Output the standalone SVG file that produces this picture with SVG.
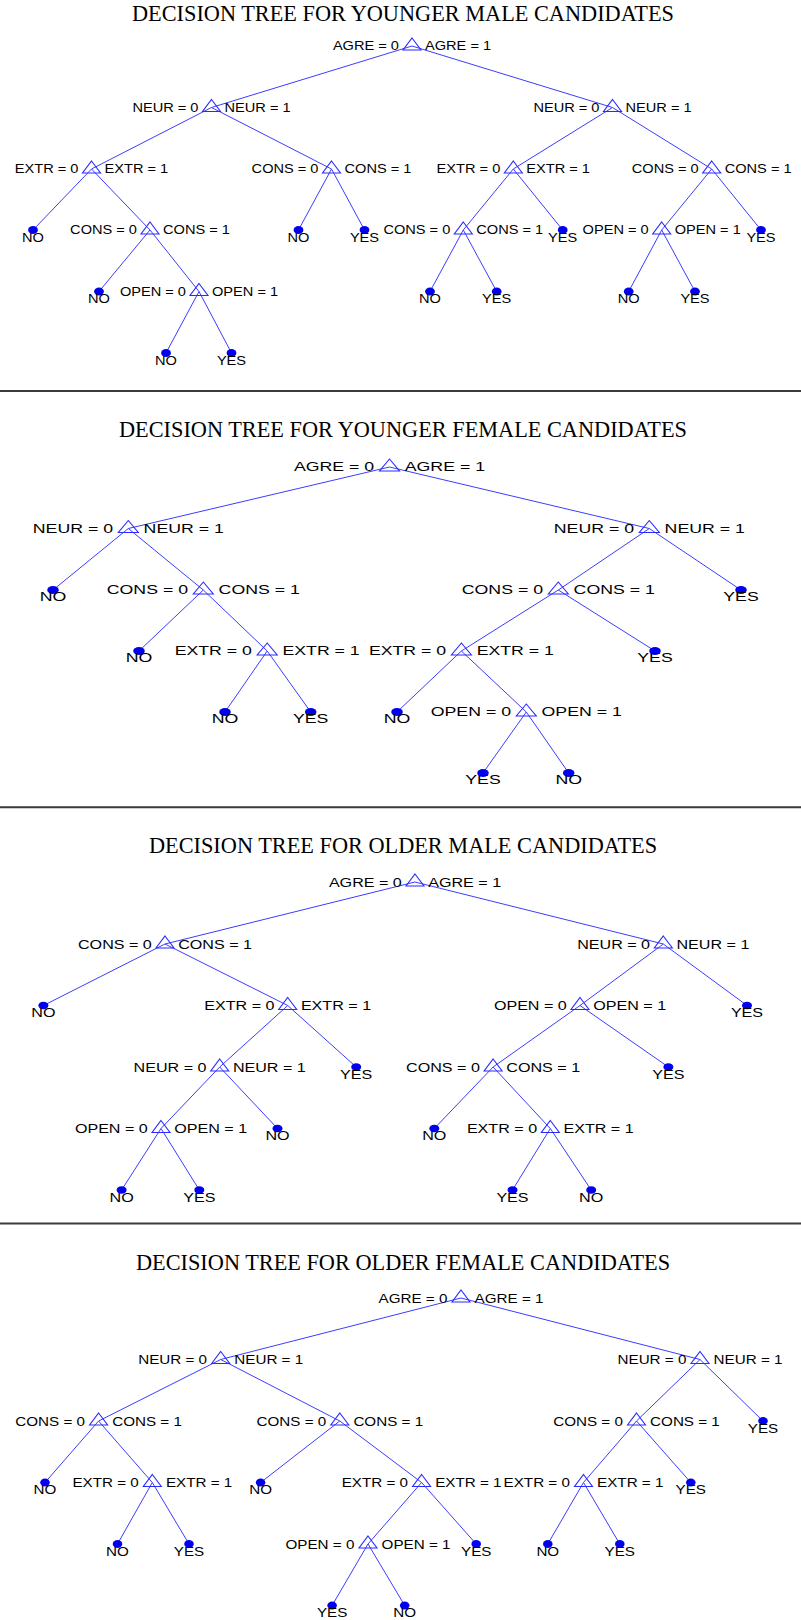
<svg xmlns="http://www.w3.org/2000/svg" xmlns:xlink="http://www.w3.org/1999/xlink" width="801" height="1620" viewBox="0 0 801 1620">
<style>
.bg{fill:#fff}
.sep{stroke:#3a3a3a;stroke-width:2}
.ttl{font-family:"Liberation Serif","Times New Roman",serif;font-size:22.3px;fill:#000;text-anchor:middle}
.e{stroke:#3d3dff;stroke-width:1;fill:none}
.tri{stroke:#2a2aff;stroke-width:1.1;fill:none}
.dot{fill:#0000ee}
text.lb{font-family:"Liberation Sans",Arial,sans-serif;fill:#000}
text.l{text-anchor:end}
text.r{text-anchor:start}
text.c{text-anchor:middle}
.f1 text{font-size:13px}
.f2 text{font-size:13.5px}
.f3 text{font-size:12.5px}
.f4 text{font-size:13px}
</style>
<defs>
<path id="tri" d="M0,-8L9,4H-9Z"/>
<path id="tri2" d="M0,-8L10,4H-10Z"/>
<ellipse id="d1" rx="4.9" ry="4"/>
<ellipse id="d2" rx="5.8" ry="4"/>
<ellipse id="d3" rx="5" ry="3.8"/>
<ellipse id="d4" rx="4.8" ry="4"/>
</defs>
<rect class="bg" x="0" y="0" width="801" height="1620"/>

<g id="titles">
<text class="ttl" x="403" y="21">DECISION TREE FOR YOUNGER MALE CANDIDATES</text>
<text class="ttl" x="403" y="437.3">DECISION TREE FOR YOUNGER FEMALE CANDIDATES</text>
<text class="ttl" x="403" y="853.3">DECISION TREE FOR OLDER MALE CANDIDATES</text>
<text class="ttl" x="403" y="1270">DECISION TREE FOR OLDER FEMALE CANDIDATES</text>
</g>
<g id="separators">
<line class="sep" x1="0" y1="391" x2="801" y2="391"/>
<line class="sep" x1="0" y1="807.3" x2="801" y2="807.3"/>
<line class="sep" x1="0" y1="1223.5" x2="801" y2="1223.5"/>
</g>

<g id="connectors" class="e">
<!-- tree 1 -->
<line x1="412" y1="46" x2="211.5" y2="107.5"/>
<line x1="412" y1="46" x2="612.5" y2="107.5"/>
<line x1="211.5" y1="107.5" x2="91.5" y2="169"/>
<line x1="211.5" y1="107.5" x2="331.5" y2="169"/>
<line x1="91.5" y1="169" x2="33" y2="230"/>
<line x1="91.5" y1="169" x2="150" y2="230"/>
<line x1="150" y1="230" x2="99" y2="291.5"/>
<line x1="150" y1="230" x2="199" y2="291.5"/>
<line x1="199" y1="291.5" x2="166" y2="353"/>
<line x1="199" y1="291.5" x2="231.5" y2="353"/>
<line x1="331.5" y1="169" x2="298.5" y2="230"/>
<line x1="331.5" y1="169" x2="364.5" y2="230"/>
<line x1="612.5" y1="107.5" x2="513.3" y2="169"/>
<line x1="612.5" y1="107.5" x2="711.7" y2="169"/>
<line x1="513.3" y1="169" x2="463.3" y2="230"/>
<line x1="513.3" y1="169" x2="562.7" y2="230"/>
<line x1="463.3" y1="230" x2="430" y2="291.5"/>
<line x1="463.3" y1="230" x2="496.7" y2="291.5"/>
<line x1="711.7" y1="169" x2="661.7" y2="230"/>
<line x1="711.7" y1="169" x2="761" y2="230"/>
<line x1="661.7" y1="230" x2="628.7" y2="291.5"/>
<line x1="661.7" y1="230" x2="695" y2="291.5"/>
<!-- tree 2 -->
<line x1="389.5" y1="467" x2="128.3" y2="528.5"/>
<line x1="389.5" y1="467" x2="649.3" y2="528.5"/>
<line x1="128.3" y1="528.5" x2="53" y2="590"/>
<line x1="128.3" y1="528.5" x2="203.3" y2="590"/>
<line x1="203.3" y1="590" x2="139" y2="651"/>
<line x1="203.3" y1="590" x2="267.2" y2="651"/>
<line x1="267.2" y1="651" x2="225" y2="712"/>
<line x1="267.2" y1="651" x2="310.7" y2="712"/>
<line x1="649.3" y1="528.5" x2="558.3" y2="590"/>
<line x1="649.3" y1="528.5" x2="741" y2="590"/>
<line x1="558.3" y1="590" x2="461.4" y2="651"/>
<line x1="558.3" y1="590" x2="655" y2="651"/>
<line x1="461.4" y1="651" x2="397" y2="712"/>
<line x1="461.4" y1="651" x2="526.3" y2="712"/>
<line x1="526.3" y1="712" x2="483" y2="773"/>
<line x1="526.3" y1="712" x2="568.7" y2="773"/>
<!-- tree 3 -->
<line x1="415" y1="882" x2="165" y2="944"/>
<line x1="415" y1="882" x2="663.3" y2="944"/>
<line x1="165" y1="944" x2="43.4" y2="1005.5"/>
<line x1="165" y1="944" x2="287.7" y2="1005.5"/>
<line x1="287.7" y1="1005.5" x2="219.7" y2="1067"/>
<line x1="287.7" y1="1005.5" x2="356.2" y2="1067"/>
<line x1="219.7" y1="1067" x2="161" y2="1128.5"/>
<line x1="219.7" y1="1067" x2="277.5" y2="1128.5"/>
<line x1="161" y1="1128.5" x2="121.6" y2="1190"/>
<line x1="161" y1="1128.5" x2="199.3" y2="1190"/>
<line x1="663.3" y1="944" x2="580" y2="1005.5"/>
<line x1="663.3" y1="944" x2="747" y2="1005.5"/>
<line x1="580" y1="1005.5" x2="493.1" y2="1067"/>
<line x1="580" y1="1005.5" x2="668.4" y2="1067"/>
<line x1="493.1" y1="1067" x2="434.3" y2="1128.5"/>
<line x1="493.1" y1="1067" x2="550.3" y2="1128.5"/>
<line x1="550.3" y1="1128.5" x2="512.5" y2="1190"/>
<line x1="550.3" y1="1128.5" x2="591.2" y2="1190"/>
<!-- tree 4 -->
<line x1="461" y1="1298" x2="220.7" y2="1359.5"/>
<line x1="461" y1="1298" x2="700" y2="1359.5"/>
<line x1="220.7" y1="1359.5" x2="98.6" y2="1421"/>
<line x1="220.7" y1="1359.5" x2="339.8" y2="1421"/>
<line x1="98.6" y1="1421" x2="45" y2="1482.5"/>
<line x1="98.6" y1="1421" x2="152.3" y2="1482.5"/>
<line x1="152.3" y1="1482.5" x2="117.5" y2="1544"/>
<line x1="152.3" y1="1482.5" x2="189" y2="1544"/>
<line x1="339.8" y1="1421" x2="260.6" y2="1482.5"/>
<line x1="339.8" y1="1421" x2="421.6" y2="1482.5"/>
<line x1="421.6" y1="1482.5" x2="368" y2="1544"/>
<line x1="421.6" y1="1482.5" x2="476.2" y2="1544"/>
<line x1="368" y1="1544" x2="332.1" y2="1605.5"/>
<line x1="368" y1="1544" x2="404.7" y2="1605.5"/>
<line x1="700" y1="1359.5" x2="636.5" y2="1421"/>
<line x1="700" y1="1359.5" x2="763" y2="1421"/>
<line x1="636.5" y1="1421" x2="583.5" y2="1482.5"/>
<line x1="636.5" y1="1421" x2="690.8" y2="1482.5"/>
<line x1="583.5" y1="1482.5" x2="547.8" y2="1544"/>
<line x1="583.5" y1="1482.5" x2="619.8" y2="1544"/>
</g>

<!-- TREE 1 -->
<g id="tree1" class="f1">
<g id="t1-root"><use href="#tri" class="tri" x="412" y="46"/><text class="lb l" x="399" y="50" textLength="66.1" lengthAdjust="spacingAndGlyphs">AGRE = 0</text><text class="lb r" x="425" y="50" textLength="66.1" lengthAdjust="spacingAndGlyphs">AGRE = 1</text></g>
<g id="t1-a"><use href="#tri" class="tri" x="211.5" y="107.5"/><text class="lb l" x="198.5" y="111.5" textLength="66.1" lengthAdjust="spacingAndGlyphs">NEUR = 0</text><text class="lb r" x="224.5" y="111.5" textLength="66.1" lengthAdjust="spacingAndGlyphs">NEUR = 1</text></g>
<g id="t1-b"><use href="#tri" class="tri" x="612.5" y="107.5"/><text class="lb l" x="599.5" y="111.5" textLength="66.1" lengthAdjust="spacingAndGlyphs">NEUR = 0</text><text class="lb r" x="625.5" y="111.5" textLength="66.1" lengthAdjust="spacingAndGlyphs">NEUR = 1</text></g>
<g id="t1-a1"><use href="#tri" class="tri" x="91.5" y="169"/><text class="lb l" x="78.5" y="173" textLength="63.7" lengthAdjust="spacingAndGlyphs">EXTR = 0</text><text class="lb r" x="104.5" y="173" textLength="63.7" lengthAdjust="spacingAndGlyphs">EXTR = 1</text></g>
<g id="t1-a2"><use href="#tri" class="tri" x="331.5" y="169"/><text class="lb l" x="318.5" y="173" textLength="66.9" lengthAdjust="spacingAndGlyphs">CONS = 0</text><text class="lb r" x="344.5" y="173" textLength="66.9" lengthAdjust="spacingAndGlyphs">CONS = 1</text></g>
<g id="t1-a1a"><use href="#d1" class="dot" x="33" y="230"/><text class="lb c" x="33" y="241.5" textLength="21.9" lengthAdjust="spacingAndGlyphs">NO</text></g>
<g id="t1-a1b"><use href="#tri" class="tri" x="150" y="230"/><text class="lb l" x="137" y="234" textLength="66.9" lengthAdjust="spacingAndGlyphs">CONS = 0</text><text class="lb r" x="163" y="234" textLength="66.9" lengthAdjust="spacingAndGlyphs">CONS = 1</text></g>
<g id="t1-a1b1"><use href="#d1" class="dot" x="99" y="291.5"/><text class="lb c" x="99" y="303" textLength="21.9" lengthAdjust="spacingAndGlyphs">NO</text></g>
<g id="t1-a1b2"><use href="#tri" class="tri" x="199" y="291.5"/><text class="lb l" x="186" y="295.5" textLength="66.1" lengthAdjust="spacingAndGlyphs">OPEN = 0</text><text class="lb r" x="212" y="295.5" textLength="66.1" lengthAdjust="spacingAndGlyphs">OPEN = 1</text></g>
<g id="t1-a1b2a"><use href="#d1" class="dot" x="166" y="353"/><text class="lb c" x="166" y="364.5" textLength="21.9" lengthAdjust="spacingAndGlyphs">NO</text></g>
<g id="t1-a1b2b"><use href="#d1" class="dot" x="231.5" y="353"/><text class="lb c" x="231.5" y="364.5" textLength="29.2" lengthAdjust="spacingAndGlyphs">YES</text></g>
<g id="t1-a2a"><use href="#d1" class="dot" x="298.5" y="230"/><text class="lb c" x="298.5" y="241.5" textLength="21.9" lengthAdjust="spacingAndGlyphs">NO</text></g>
<g id="t1-a2b"><use href="#d1" class="dot" x="364.5" y="230"/><text class="lb c" x="364.5" y="241.5" textLength="29.2" lengthAdjust="spacingAndGlyphs">YES</text></g>
<g id="t1-b1"><use href="#tri" class="tri" x="513.3" y="169"/><text class="lb l" x="500.3" y="173" textLength="63.7" lengthAdjust="spacingAndGlyphs">EXTR = 0</text><text class="lb r" x="526.3" y="173" textLength="63.7" lengthAdjust="spacingAndGlyphs">EXTR = 1</text></g>
<g id="t1-b2"><use href="#tri" class="tri" x="711.7" y="169"/><text class="lb l" x="698.7" y="173" textLength="66.9" lengthAdjust="spacingAndGlyphs">CONS = 0</text><text class="lb r" x="724.7" y="173" textLength="66.9" lengthAdjust="spacingAndGlyphs">CONS = 1</text></g>
<g id="t1-b1a"><use href="#tri" class="tri" x="463.3" y="230"/><text class="lb l" x="450.3" y="234" textLength="66.9" lengthAdjust="spacingAndGlyphs">CONS = 0</text><text class="lb r" x="476.3" y="234" textLength="66.9" lengthAdjust="spacingAndGlyphs">CONS = 1</text></g>
<g id="t1-b1b"><use href="#d1" class="dot" x="562.7" y="230"/><text class="lb c" x="562.7" y="241.5" textLength="29.2" lengthAdjust="spacingAndGlyphs">YES</text></g>
<g id="t1-b1a1"><use href="#d1" class="dot" x="430" y="291.5"/><text class="lb c" x="430" y="303" textLength="21.9" lengthAdjust="spacingAndGlyphs">NO</text></g>
<g id="t1-b1a2"><use href="#d1" class="dot" x="496.7" y="291.5"/><text class="lb c" x="496.7" y="303" textLength="29.2" lengthAdjust="spacingAndGlyphs">YES</text></g>
<g id="t1-b2a"><use href="#tri" class="tri" x="661.7" y="230"/><text class="lb l" x="648.7" y="234" textLength="66.1" lengthAdjust="spacingAndGlyphs">OPEN = 0</text><text class="lb r" x="674.7" y="234" textLength="66.1" lengthAdjust="spacingAndGlyphs">OPEN = 1</text></g>
<g id="t1-b2b"><use href="#d1" class="dot" x="761" y="230"/><text class="lb c" x="761" y="241.5" textLength="29.2" lengthAdjust="spacingAndGlyphs">YES</text></g>
<g id="t1-b2a1"><use href="#d1" class="dot" x="628.7" y="291.5"/><text class="lb c" x="628.7" y="303" textLength="21.9" lengthAdjust="spacingAndGlyphs">NO</text></g>
<g id="t1-b2a2"><use href="#d1" class="dot" x="695" y="291.5"/><text class="lb c" x="695" y="303" textLength="29.2" lengthAdjust="spacingAndGlyphs">YES</text></g>
</g>

<!-- TREE 2 -->
<g id="tree2" class="f2">
<g id="t2-root"><use href="#tri2" class="tri" x="389.5" y="467"/><text class="lb l" x="374.2" y="471" textLength="80.2" lengthAdjust="spacingAndGlyphs">AGRE = 0</text><text class="lb r" x="404.8" y="471" textLength="80.2" lengthAdjust="spacingAndGlyphs">AGRE = 1</text></g>
<g id="t2-a"><use href="#tri2" class="tri" x="128.3" y="528.5"/><text class="lb l" x="113" y="532.5" textLength="80.2" lengthAdjust="spacingAndGlyphs">NEUR = 0</text><text class="lb r" x="143.6" y="532.5" textLength="80.2" lengthAdjust="spacingAndGlyphs">NEUR = 1</text></g>
<g id="t2-b"><use href="#tri2" class="tri" x="649.3" y="528.5"/><text class="lb l" x="634" y="532.5" textLength="80.2" lengthAdjust="spacingAndGlyphs">NEUR = 0</text><text class="lb r" x="664.6" y="532.5" textLength="80.2" lengthAdjust="spacingAndGlyphs">NEUR = 1</text></g>
<g id="t2-a1"><use href="#d2" class="dot" x="53" y="590"/><text class="lb c" x="53" y="601" textLength="26.6" lengthAdjust="spacingAndGlyphs">NO</text></g>
<g id="t2-a2"><use href="#tri2" class="tri" x="203.3" y="590"/><text class="lb l" x="188" y="594" textLength="81.2" lengthAdjust="spacingAndGlyphs">CONS = 0</text><text class="lb r" x="218.6" y="594" textLength="81.2" lengthAdjust="spacingAndGlyphs">CONS = 1</text></g>
<g id="t2-a2a"><use href="#d2" class="dot" x="139" y="651"/><text class="lb c" x="139" y="662" textLength="26.6" lengthAdjust="spacingAndGlyphs">NO</text></g>
<g id="t2-a2b"><use href="#tri2" class="tri" x="267.2" y="651"/><text class="lb l" x="251.9" y="655" textLength="77.2" lengthAdjust="spacingAndGlyphs">EXTR = 0</text><text class="lb r" x="282.5" y="655" textLength="77.2" lengthAdjust="spacingAndGlyphs">EXTR = 1</text></g>
<g id="t2-a2b1"><use href="#d2" class="dot" x="225" y="712"/><text class="lb c" x="225" y="723" textLength="26.6" lengthAdjust="spacingAndGlyphs">NO</text></g>
<g id="t2-a2b2"><use href="#d2" class="dot" x="310.7" y="712"/><text class="lb c" x="310.7" y="723" textLength="35.4" lengthAdjust="spacingAndGlyphs">YES</text></g>
<g id="t2-b1"><use href="#tri2" class="tri" x="558.3" y="590"/><text class="lb l" x="543" y="594" textLength="81.2" lengthAdjust="spacingAndGlyphs">CONS = 0</text><text class="lb r" x="573.6" y="594" textLength="81.2" lengthAdjust="spacingAndGlyphs">CONS = 1</text></g>
<g id="t2-b2"><use href="#d2" class="dot" x="741" y="590"/><text class="lb c" x="741" y="601" textLength="35.4" lengthAdjust="spacingAndGlyphs">YES</text></g>
<g id="t2-b1a"><use href="#tri2" class="tri" x="461.4" y="651"/><text class="lb l" x="446.1" y="655" textLength="77.2" lengthAdjust="spacingAndGlyphs">EXTR = 0</text><text class="lb r" x="476.7" y="655" textLength="77.2" lengthAdjust="spacingAndGlyphs">EXTR = 1</text></g>
<g id="t2-b1b"><use href="#d2" class="dot" x="655" y="651"/><text class="lb c" x="655" y="662" textLength="35.4" lengthAdjust="spacingAndGlyphs">YES</text></g>
<g id="t2-b1a1"><use href="#d2" class="dot" x="397" y="712"/><text class="lb c" x="397" y="723" textLength="26.6" lengthAdjust="spacingAndGlyphs">NO</text></g>
<g id="t2-b1a2"><use href="#tri2" class="tri" x="526.3" y="712"/><text class="lb l" x="511" y="716" textLength="80.2" lengthAdjust="spacingAndGlyphs">OPEN = 0</text><text class="lb r" x="541.6" y="716" textLength="80.2" lengthAdjust="spacingAndGlyphs">OPEN = 1</text></g>
<g id="t2-b1a2a"><use href="#d2" class="dot" x="483" y="773"/><text class="lb c" x="483" y="784" textLength="35.4" lengthAdjust="spacingAndGlyphs">YES</text></g>
<g id="t2-b1a2b"><use href="#d2" class="dot" x="568.7" y="773"/><text class="lb c" x="568.7" y="784" textLength="26.6" lengthAdjust="spacingAndGlyphs">NO</text></g>
</g>

<!-- TREE 3 -->
<g id="tree3" class="f3">
<g id="t3-root"><use href="#tri" class="tri" x="415" y="882"/><text class="lb l" x="401.8" y="886.5" textLength="72.9" lengthAdjust="spacingAndGlyphs">AGRE = 0</text><text class="lb r" x="428.2" y="886.5" textLength="72.9" lengthAdjust="spacingAndGlyphs">AGRE = 1</text></g>
<g id="t3-a"><use href="#tri" class="tri" x="165" y="944"/><text class="lb l" x="151.8" y="948.5" textLength="73.8" lengthAdjust="spacingAndGlyphs">CONS = 0</text><text class="lb r" x="178.2" y="948.5" textLength="73.8" lengthAdjust="spacingAndGlyphs">CONS = 1</text></g>
<g id="t3-b"><use href="#tri" class="tri" x="663.3" y="944"/><text class="lb l" x="650.1" y="948.5" textLength="72.9" lengthAdjust="spacingAndGlyphs">NEUR = 0</text><text class="lb r" x="676.5" y="948.5" textLength="72.9" lengthAdjust="spacingAndGlyphs">NEUR = 1</text></g>
<g id="t3-a1"><use href="#d3" class="dot" x="43.4" y="1005.5"/><text class="lb c" x="43.4" y="1017" textLength="24.2" lengthAdjust="spacingAndGlyphs">NO</text></g>
<g id="t3-a2"><use href="#tri" class="tri" x="287.7" y="1005.5"/><text class="lb l" x="274.5" y="1010" textLength="70.2" lengthAdjust="spacingAndGlyphs">EXTR = 0</text><text class="lb r" x="300.9" y="1010" textLength="70.2" lengthAdjust="spacingAndGlyphs">EXTR = 1</text></g>
<g id="t3-a2a"><use href="#tri" class="tri" x="219.7" y="1067"/><text class="lb l" x="206.5" y="1071.5" textLength="72.9" lengthAdjust="spacingAndGlyphs">NEUR = 0</text><text class="lb r" x="232.9" y="1071.5" textLength="72.9" lengthAdjust="spacingAndGlyphs">NEUR = 1</text></g>
<g id="t3-a2b"><use href="#d3" class="dot" x="356.2" y="1067"/><text class="lb c" x="356.2" y="1078.5" textLength="32.2" lengthAdjust="spacingAndGlyphs">YES</text></g>
<g id="t3-a2a1"><use href="#tri" class="tri" x="161" y="1128.5"/><text class="lb l" x="147.8" y="1133" textLength="72.9" lengthAdjust="spacingAndGlyphs">OPEN = 0</text><text class="lb r" x="174.2" y="1133" textLength="72.9" lengthAdjust="spacingAndGlyphs">OPEN = 1</text></g>
<g id="t3-a2a2"><use href="#d3" class="dot" x="277.5" y="1128.5"/><text class="lb c" x="277.5" y="1140" textLength="24.2" lengthAdjust="spacingAndGlyphs">NO</text></g>
<g id="t3-a2a1a"><use href="#d3" class="dot" x="121.6" y="1190"/><text class="lb c" x="121.6" y="1201.5" textLength="24.2" lengthAdjust="spacingAndGlyphs">NO</text></g>
<g id="t3-a2a1b"><use href="#d3" class="dot" x="199.3" y="1190"/><text class="lb c" x="199.3" y="1201.5" textLength="32.2" lengthAdjust="spacingAndGlyphs">YES</text></g>
<g id="t3-b1"><use href="#tri" class="tri" x="580" y="1005.5"/><text class="lb l" x="566.8" y="1010" textLength="72.9" lengthAdjust="spacingAndGlyphs">OPEN = 0</text><text class="lb r" x="593.2" y="1010" textLength="72.9" lengthAdjust="spacingAndGlyphs">OPEN = 1</text></g>
<g id="t3-b2"><use href="#d3" class="dot" x="747" y="1005.5"/><text class="lb c" x="747" y="1017" textLength="32.2" lengthAdjust="spacingAndGlyphs">YES</text></g>
<g id="t3-b1a"><use href="#tri" class="tri" x="493.1" y="1067"/><text class="lb l" x="479.9" y="1071.5" textLength="73.8" lengthAdjust="spacingAndGlyphs">CONS = 0</text><text class="lb r" x="506.3" y="1071.5" textLength="73.8" lengthAdjust="spacingAndGlyphs">CONS = 1</text></g>
<g id="t3-b1b"><use href="#d3" class="dot" x="668.4" y="1067"/><text class="lb c" x="668.4" y="1078.5" textLength="32.2" lengthAdjust="spacingAndGlyphs">YES</text></g>
<g id="t3-b1a1"><use href="#d3" class="dot" x="434.3" y="1128.5"/><text class="lb c" x="434.3" y="1140" textLength="24.2" lengthAdjust="spacingAndGlyphs">NO</text></g>
<g id="t3-b1a2"><use href="#tri" class="tri" x="550.3" y="1128.5"/><text class="lb l" x="537.1" y="1133" textLength="70.2" lengthAdjust="spacingAndGlyphs">EXTR = 0</text><text class="lb r" x="563.5" y="1133" textLength="70.2" lengthAdjust="spacingAndGlyphs">EXTR = 1</text></g>
<g id="t3-b1a2a"><use href="#d3" class="dot" x="512.5" y="1190"/><text class="lb c" x="512.5" y="1201.5" textLength="32.2" lengthAdjust="spacingAndGlyphs">YES</text></g>
<g id="t3-b1a2b"><use href="#d3" class="dot" x="591.2" y="1190"/><text class="lb c" x="591.2" y="1201.5" textLength="24.2" lengthAdjust="spacingAndGlyphs">NO</text></g>
</g>

<!-- TREE 4 -->
<g id="tree4" class="f4">
<g id="t4-root"><use href="#tri" class="tri" x="461" y="1298"/><text class="lb l" x="447.4" y="1302.5" textLength="68.9" lengthAdjust="spacingAndGlyphs">AGRE = 0</text><text class="lb r" x="474.6" y="1302.5" textLength="68.9" lengthAdjust="spacingAndGlyphs">AGRE = 1</text></g>
<g id="t4-a"><use href="#tri" class="tri" x="220.7" y="1359.5"/><text class="lb l" x="207.1" y="1364" textLength="68.9" lengthAdjust="spacingAndGlyphs">NEUR = 0</text><text class="lb r" x="234.3" y="1364" textLength="68.9" lengthAdjust="spacingAndGlyphs">NEUR = 1</text></g>
<g id="t4-b"><use href="#tri" class="tri" x="700" y="1359.5"/><text class="lb l" x="686.4" y="1364" textLength="68.9" lengthAdjust="spacingAndGlyphs">NEUR = 0</text><text class="lb r" x="713.6" y="1364" textLength="68.9" lengthAdjust="spacingAndGlyphs">NEUR = 1</text></g>
<g id="t4-a1"><use href="#tri" class="tri" x="98.6" y="1421"/><text class="lb l" x="85" y="1425.5" textLength="69.7" lengthAdjust="spacingAndGlyphs">CONS = 0</text><text class="lb r" x="112.2" y="1425.5" textLength="69.7" lengthAdjust="spacingAndGlyphs">CONS = 1</text></g>
<g id="t4-a2"><use href="#tri" class="tri" x="339.8" y="1421"/><text class="lb l" x="326.2" y="1425.5" textLength="69.7" lengthAdjust="spacingAndGlyphs">CONS = 0</text><text class="lb r" x="353.4" y="1425.5" textLength="69.7" lengthAdjust="spacingAndGlyphs">CONS = 1</text></g>
<g id="t4-a1a"><use href="#d4" class="dot" x="45" y="1482.5"/><text class="lb c" x="45" y="1494" textLength="22.8" lengthAdjust="spacingAndGlyphs">NO</text></g>
<g id="t4-a1b"><use href="#tri" class="tri" x="152.3" y="1482.5"/><text class="lb l" x="138.7" y="1487" textLength="66.3" lengthAdjust="spacingAndGlyphs">EXTR = 0</text><text class="lb r" x="165.9" y="1487" textLength="66.3" lengthAdjust="spacingAndGlyphs">EXTR = 1</text></g>
<g id="t4-a1b1"><use href="#d4" class="dot" x="117.5" y="1544"/><text class="lb c" x="117.5" y="1555.5" textLength="22.8" lengthAdjust="spacingAndGlyphs">NO</text></g>
<g id="t4-a1b2"><use href="#d4" class="dot" x="189" y="1544"/><text class="lb c" x="189" y="1555.5" textLength="30.4" lengthAdjust="spacingAndGlyphs">YES</text></g>
<g id="t4-a2a"><use href="#d4" class="dot" x="260.6" y="1482.5"/><text class="lb c" x="260.6" y="1494" textLength="22.8" lengthAdjust="spacingAndGlyphs">NO</text></g>
<g id="t4-a2b"><use href="#tri" class="tri" x="421.6" y="1482.5"/><text class="lb l" x="408" y="1487" textLength="66.3" lengthAdjust="spacingAndGlyphs">EXTR = 0</text><text class="lb r" x="435.2" y="1487" textLength="66.3" lengthAdjust="spacingAndGlyphs">EXTR = 1</text></g>
<g id="t4-a2b1"><use href="#tri" class="tri" x="368" y="1544"/><text class="lb l" x="354.4" y="1548.5" textLength="68.9" lengthAdjust="spacingAndGlyphs">OPEN = 0</text><text class="lb r" x="381.6" y="1548.5" textLength="68.9" lengthAdjust="spacingAndGlyphs">OPEN = 1</text></g>
<g id="t4-a2b2"><use href="#d4" class="dot" x="476.2" y="1544"/><text class="lb c" x="476.2" y="1555.5" textLength="30.4" lengthAdjust="spacingAndGlyphs">YES</text></g>
<g id="t4-a2b1a"><use href="#d4" class="dot" x="332.1" y="1605.5"/><text class="lb c" x="332.1" y="1617" textLength="30.4" lengthAdjust="spacingAndGlyphs">YES</text></g>
<g id="t4-a2b1b"><use href="#d4" class="dot" x="404.7" y="1605.5"/><text class="lb c" x="404.7" y="1617" textLength="22.8" lengthAdjust="spacingAndGlyphs">NO</text></g>
<g id="t4-b1"><use href="#tri" class="tri" x="636.5" y="1421"/><text class="lb l" x="622.9" y="1425.5" textLength="69.7" lengthAdjust="spacingAndGlyphs">CONS = 0</text><text class="lb r" x="650.1" y="1425.5" textLength="69.7" lengthAdjust="spacingAndGlyphs">CONS = 1</text></g>
<g id="t4-b2"><use href="#d4" class="dot" x="763" y="1421"/><text class="lb c" x="763" y="1432.5" textLength="30.4" lengthAdjust="spacingAndGlyphs">YES</text></g>
<g id="t4-b1a"><use href="#tri" class="tri" x="583.5" y="1482.5"/><text class="lb l" x="569.9" y="1487" textLength="66.3" lengthAdjust="spacingAndGlyphs">EXTR = 0</text><text class="lb r" x="597.1" y="1487" textLength="66.3" lengthAdjust="spacingAndGlyphs">EXTR = 1</text></g>
<g id="t4-b1b"><use href="#d4" class="dot" x="690.8" y="1482.5"/><text class="lb c" x="690.8" y="1494" textLength="30.4" lengthAdjust="spacingAndGlyphs">YES</text></g>
<g id="t4-b1a1"><use href="#d4" class="dot" x="547.8" y="1544"/><text class="lb c" x="547.8" y="1555.5" textLength="22.8" lengthAdjust="spacingAndGlyphs">NO</text></g>
<g id="t4-b1a2"><use href="#d4" class="dot" x="619.8" y="1544"/><text class="lb c" x="619.8" y="1555.5" textLength="30.4" lengthAdjust="spacingAndGlyphs">YES</text></g>
</g>
</svg>
